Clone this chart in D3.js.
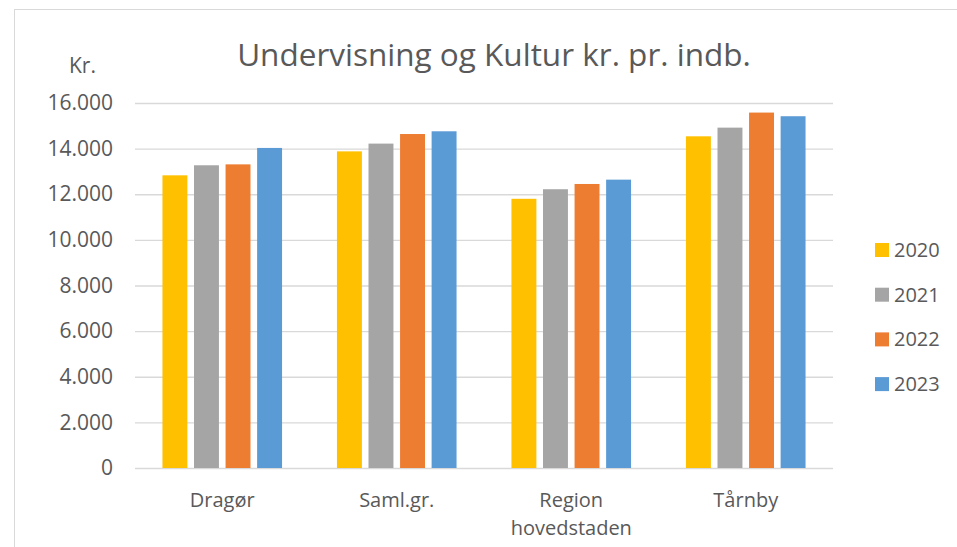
<!DOCTYPE html>
<html>
<head>
<meta charset="utf-8">
<script src="https://cdn.jsdelivr.net/npm/d3@7"></script>
<style>
  body { margin: 0; background: #fff; }
  text { font-family: "Open Sans", sans-serif; fill: #595959; }
</style>
</head>
<body>
<script>
const categories = ["Dragør", "Saml.gr.", "Region hovedstaden", "Tårnby"];
const years = ["2020", "2021", "2022", "2023"];
const v2020 = [12830, 13880, 11800, 14540];
const v2021 = [13270, 14220, 12220, 14920];
const v2022 = [13310, 14640, 12450, 15580];
const v2023 = [14030, 14760, 12640, 15420];
const yTicks = [0, 2000, 4000, 6000, 8000, 10000, 12000, 14000, 16000];
const colors = ["#FFC000", "#A5A5A5", "#ED7D31", "#5B9BD5"];

const series = [v2020, v2021, v2022, v2023];

const width = 957, height = 547;
const margin = { top: 103, right: 124, bottom: 79, left: 135 };

const svg = d3.select("body").append("svg")
  .attr("width", width)
  .attr("height", height);

// chart frame (only top and left visible)
svg.append("rect")
  .attr("x", 14.5).attr("y", 9.5)
  .attr("width", 960).attr("height", 560)
  .attr("fill", "none")
  .attr("stroke", "#d9d9d9");

const dk = d3.formatLocale({ decimal: ",", thousands: ".", grouping: [3], currency: ["", ""] });
const fmt = dk.format(",d");

const y = d3.scaleLinear()
  .domain([0, 16000])
  .range([height - margin.bottom, margin.top]);

const x0 = d3.scaleBand()
  .domain(categories)
  .range([margin.left, width - margin.right])
  .paddingInner(0)
  .paddingOuter(0);

const x1 = d3.scaleBand()
  .domain(years)
  .range([0, x0.bandwidth()])
  .paddingInner(0.21)
  .paddingOuter(0.87);

// y axis with gridlines
const yAxis = svg.append("g")
  .attr("transform", `translate(${margin.left},0)`)
  .call(d3.axisLeft(y)
    .tickValues(yTicks)
    .tickFormat(fmt)
    .tickSize(-(width - margin.left - margin.right))
    .tickPadding(22));
yAxis.select(".domain").remove();
yAxis.selectAll("line").attr("stroke", "#d9d9d9").attr("stroke-width", 1.3);
yAxis.selectAll("text")
  .style("font-size", "21px")
  .attr("fill", "#595959");

// bars
const groups = svg.append("g").selectAll("g")
  .data(categories)
  .join("g")
  .attr("transform", d => `translate(${x0(d)},0)`);

groups.selectAll("rect")
  .data((c, ci) => years.map((yr, si) => ({ yr, value: series[si][ci], color: colors[si] })))
  .join("rect")
  .attr("x", d => x1(d.yr))
  .attr("width", x1.bandwidth())
  .attr("y", d => y(d.value))
  .attr("height", d => y(0) - y(d.value))
  .attr("fill", d => d.color);

// category labels
const xAxis = svg.append("g")
  .attr("transform", `translate(0,${y(0)})`)
  .call(d3.axisBottom(x0).tickSize(0).tickPadding(0));
xAxis.select(".domain").remove();
xAxis.selectAll("text").each(function (d) {
  const t = d3.select(this);
  t.text(null).attr("y", 0).attr("dy", null).style("font-size", "20px").attr("fill", "#595959");
  d.split(" ").forEach((w, i) => {
    t.append("tspan").attr("x", 0).attr("y", 39 + i * 28).text(w);
  });
});

// title
svg.append("text")
  .attr("x", 494)
  .attr("y", 66)
  .attr("text-anchor", "middle")
  .style("font-size", "31.5px")
  .text("Undervisning og Kultur kr. pr. indb.");

svg.append("text")
  .attr("x", 69)
  .attr("y", 73)
  .style("font-size", "21px")
  .text("Kr.");

// legend
const legend = svg.append("g").selectAll("g")
  .data(years)
  .join("g")
  .attr("transform", (d, i) => `translate(875,${257 + i * 44.7})`);
legend.append("rect")
  .attr("x", 0).attr("y", -14)
  .attr("width", 14).attr("height", 14)
  .attr("fill", (d, i) => colors[i]);
legend.append("text")
  .attr("x", 19).attr("y", 0)
  .style("font-size", "20px")
  .text(d => d);
</script>
</body>
</html>
